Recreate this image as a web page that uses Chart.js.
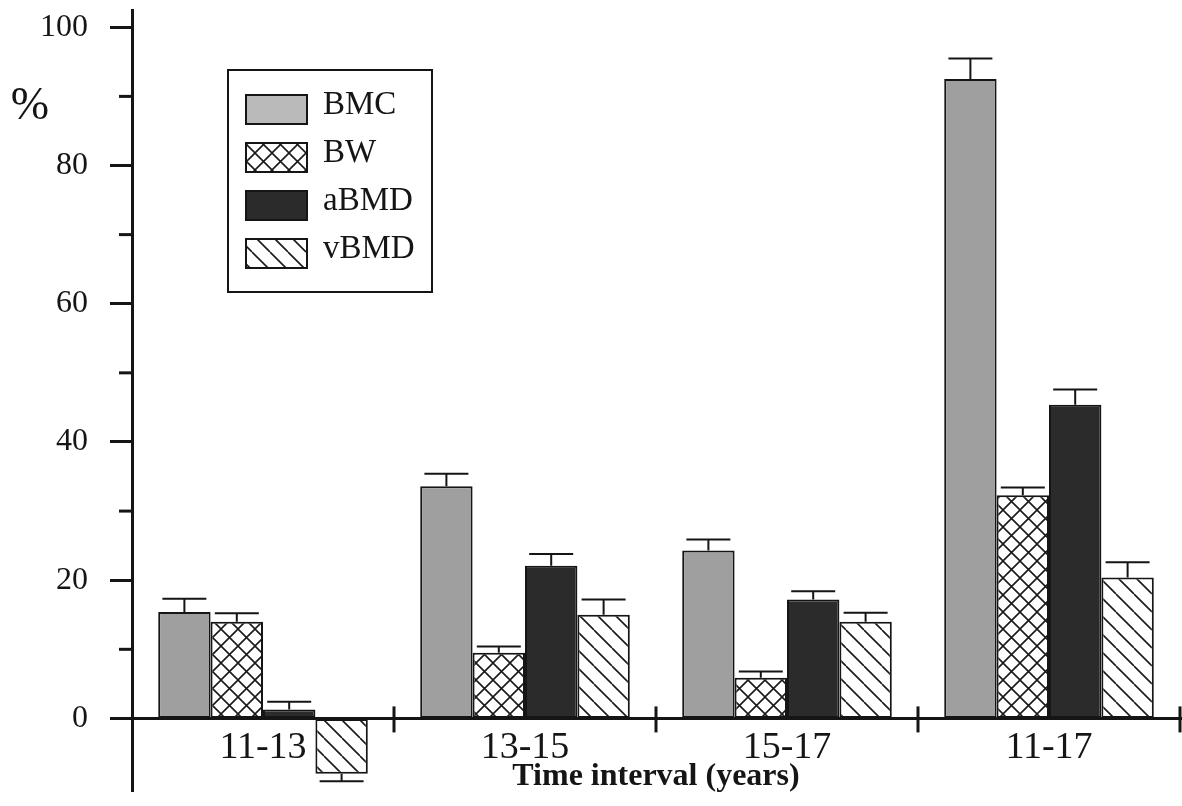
<!DOCTYPE html>
<html>
<head>
<meta charset="utf-8">
<script src="https://cdn.jsdelivr.net/npm/chart.js@4.4.1/dist/chart.umd.min.js"></script>
<style>
  html, body { margin: 0; padding: 0; background: #fff; }
</style>
</head>
<body>
<canvas id="chart" width="1182" height="806"></canvas>
<script>
// percentage gains per time interval, with standard errors
const intervals = ['11-13', '13-15', '15-17', '11-17'];
const bmc = [15.4, 33.6, 24.3, 92.5];
const bmcErr = [1.9, 1.8, 1.6, 3.0];
const bw = [14.0, 9.5, 5.9, 32.3];
const bwErr = [1.2, 0.9, 0.9, 1.1];
const abmd = [1.3, 22.1, 17.2, 45.4];
const abmdErr = [1.1, 1.7, 1.2, 2.2];
const vbmd = [-8.0, 15.0, 14.0, 20.4];
const vbmdErr = [1.1, 2.2, 1.3, 2.2];
const yTicks = [0, 10, 20, 30, 40, 50, 60, 70, 80, 90, 100];

const SERIF = '"Liberation Serif", "Times New Roman", serif';
const INK = '#151515';

// hatch fills
function makeTile(size, draw) {
  const c = document.createElement('canvas');
  c.width = size; c.height = size;
  const g = c.getContext('2d');
  g.fillStyle = '#fff';
  g.fillRect(0, 0, size, size);
  g.strokeStyle = '#1a1a1a';
  g.lineWidth = 1.6;
  draw(g, size);
  return g.createPattern(c, 'repeat');
}
const crossHatch = makeTile(17, (g, s) => {
  g.beginPath();
  g.moveTo(0, 0); g.lineTo(s, s);
  g.moveTo(0, s); g.lineTo(s, 0);
  g.stroke();
});
const backHatch = makeTile(18, (g, s) => {
  g.beginPath();
  [-s, 0, s].forEach(o => { g.moveTo(o, 0); g.lineTo(o + s, s); });
  g.stroke();
});

const series = [
  { label: 'BMC', data: bmc, errors: bmcErr, fill: '#9f9f9f', key: '#bababa' },
  { label: 'BW', data: bw, errors: bwErr, fill: crossHatch, key: crossHatch },
  { label: 'aBMD', data: abmd, errors: abmdErr, fill: '#2b2b2b', key: '#2b2b2b' },
  { label: 'vBMD', data: vbmd, errors: vbmdErr, fill: backHatch, key: backHatch }
];

// error bars, axis line, interval dividers, labels and key box
const decor = {
  id: 'decor',
  afterDatasetsDraw(chart) {
    const { ctx, chartArea: a, scales: { x, y } } = chart;
    const zero = y.getPixelForValue(0);
    const catW = x.getPixelForValue(1) - x.getPixelForValue(0);
    ctx.save();

    ctx.strokeStyle = INK;
    ctx.lineWidth = 2;
    chart.data.datasets.forEach((ds, i) => {
      chart.getDatasetMeta(i).data.forEach((bar, j) => {
        const v = ds.data[j];
        const end = y.getPixelForValue(v + Math.sign(v) * ds.errors[j]);
        ctx.beginPath();
        ctx.moveTo(bar.x, bar.y); ctx.lineTo(bar.x, end);
        ctx.moveTo(bar.x - 22, end); ctx.lineTo(bar.x + 22, end);
        ctx.stroke();
      });
    });

    // x axis at zero
    ctx.lineWidth = 3;
    ctx.beginPath();
    ctx.moveTo(a.left, zero); ctx.lineTo(chart.width, zero);
    ctx.stroke();
    intervals.forEach((_, i) => {
      const bx = x.getPixelForValue(i) + catW / 2;
      ctx.beginPath();
      ctx.moveTo(bx, zero - 12); ctx.lineTo(bx, zero + 14);
      ctx.stroke();
    });

    // minor y ticks
    yTicks.filter(v => v % 20 !== 0).forEach(v => {
      const py = y.getPixelForValue(v);
      ctx.beginPath();
      ctx.moveTo(a.left - 13, py); ctx.lineTo(a.left, py);
      ctx.stroke();
    });

    ctx.fillStyle = INK;
    ctx.textAlign = 'center';
    ctx.textBaseline = 'alphabetic';
    ctx.font = '38px ' + SERIF;
    intervals.forEach((lab, i) => ctx.fillText(lab, x.getPixelForValue(i), zero + 40));
    ctx.font = 'bold 32px ' + SERIF;
    ctx.fillText('Time interval (years)', (a.left + a.right) / 2, zero + 67);
    ctx.font = '46px ' + SERIF;
    ctx.fillText('%', 30, y.getPixelForValue(89) + 16);

    // key box
    const bx = a.left + 96, by = a.top + 60;
    ctx.lineWidth = 2;
    ctx.strokeRect(bx, by, 204, 222);
    ctx.textAlign = 'left';
    ctx.font = '33px ' + SERIF;
    series.forEach((s, i) => {
      const sy = by + 25 + i * 48;
      ctx.fillStyle = s.key;
      ctx.fillRect(bx + 18, sy, 61, 29);
      ctx.strokeRect(bx + 18, sy, 61, 29);
      ctx.fillStyle = INK;
      ctx.fillText(s.label, bx + 95, sy + 19);
    });
    ctx.restore();
  }
};

new Chart(document.getElementById('chart'), {
  type: 'bar',
  data: {
    labels: intervals,
    datasets: series.map(s => ({
      label: s.label,
      data: s.data,
      errors: s.errors,
      backgroundColor: s.fill,
      borderColor: INK,
      borderWidth: 2,
      borderSkipped: false,
      categoryPercentage: 0.8,
      barPercentage: 1.0
    }))
  },
  options: {
    responsive: false,
    animation: false,
    layout: { padding: { left: 0, right: 2, top: 10, bottom: 15 } },
    plugins: { legend: { display: false }, tooltip: { enabled: false } },
    scales: {
      x: { display: false },
      y: {
        min: -10.5,
        max: 102.5,
        afterBuildTicks: scale => { scale.ticks = yTicks.map(v => ({ value: v })); },
        afterFit: scale => { scale.width = 132; scale.paddingTop = 0; scale.paddingBottom = 0; },
        border: { display: true, color: INK, width: 3 },
        grid: {
          drawOnChartArea: false,
          drawTicks: true,
          tickLength: 22,
          tickWidth: 3,
          tickColor: c => (c.tick && c.tick.value % 20 === 0 ? INK : 'rgba(0,0,0,0)')
        },
        ticks: {
          padding: 22,
          color: INK,
          font: { family: SERIF, size: 32 },
          callback: v => (v % 20 === 0 ? v : '')
        }
      }
    }
  },
  plugins: [decor]
});
</script>
</body>
</html>
